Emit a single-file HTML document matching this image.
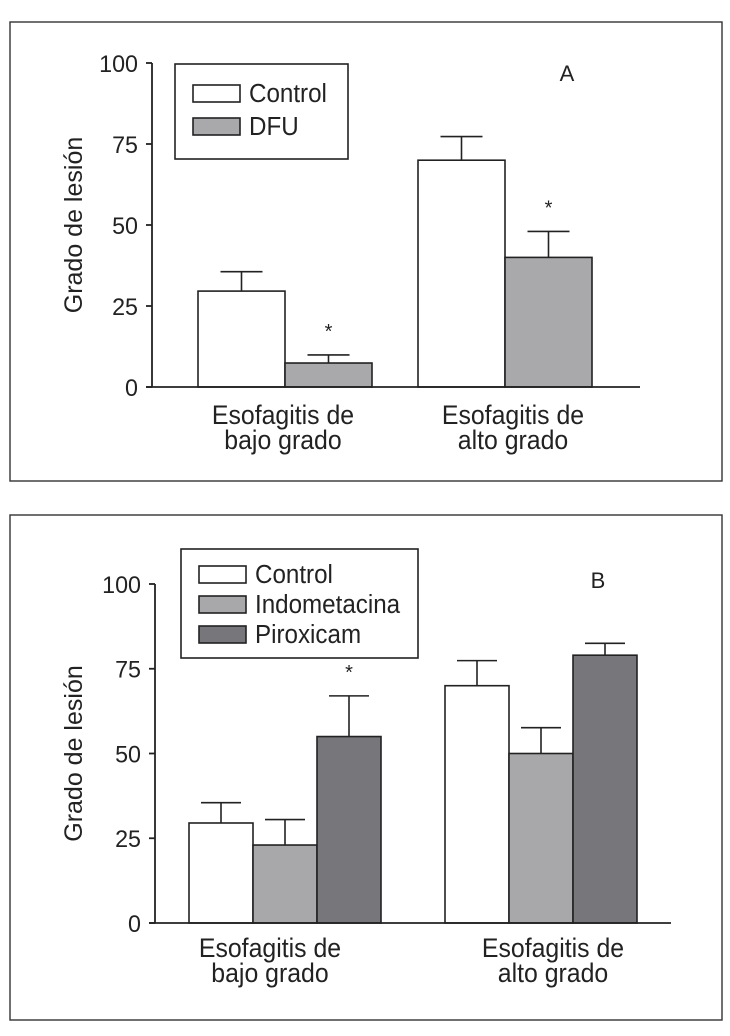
<!DOCTYPE html>
<html><head><meta charset="utf-8">
<style>
html,body{margin:0;padding:0;background:#fff;}
svg{display:block;font-family:"Liberation Sans",Arial,sans-serif;}
</style></head>
<body>
<svg id="fig" width="730" height="1036" viewBox="0 0 730 1036">
</svg>
<script>
// Panel A data
const catsA = ["Esofagitis de|bajo grado", "Esofagitis de|alto grado"];
const seriesA = ["Control", "DFU"];
const controlA = [29.6, 70];
const dfuA = [7.4, 40];
const controlAErr = [35.6, 77.3];
const dfuAErr = [9.9, 48];
const sigA = [true, true]; // asterisk on DFU
// Panel B data
const catsB = ["Esofagitis de|bajo grado", "Esofagitis de|alto grado"];
const seriesB = ["Control", "Indometacina", "Piroxicam"];
const controlB = [29.5, 70];
const indoB = [23, 50];
const piroB = [55, 79];
const controlBErr = [35.5, 77.4];
const indoBErr = [30.5, 57.6];
const piroBErr = [67, 82.5];
const sigB = [true, false];
const ticks = [0, 25, 50, 75, 100];

const NS = "http://www.w3.org/2000/svg";
const svg = document.getElementById("fig");
function mk(tag, attrs, parent) {
  const e = document.createElementNS(NS, tag);
  for (const k in attrs) e.setAttribute(k, attrs[k]);
  (parent || svg).appendChild(e);
  return e;
}
function txt(s, attrs, parent) { const t = mk("text", attrs, parent); t.textContent = s; return t; }
function sx(x, s) { return `translate(${x},0) scale(${s},1) translate(${-x},0)`; }

function panel(cfg) {
  const g = mk("g", {});
  
  
  const fr = mk("rect", {x: cfg.frame[0], y: cfg.frame[1], width: cfg.frame[2], height: cfg.frame[3], fill: "none", stroke: "#333", "stroke-width": 1.4}, g);
  
  
  const y = v => cfg.y0 - (cfg.y0 - cfg.y100) * v / 100;
  const ya = mk("line", {x1: cfg.ax, y1: cfg.y100, x2: cfg.ax, y2: cfg.y0, stroke: "#222", "stroke-width": 1.8}, g);
  
  
  ticks.forEach(t => {
    const tk = mk("line", {x1: cfg.ax - 6, y1: y(t), x2: cfg.ax, y2: y(t), stroke: "#222", "stroke-width": 1.8}, g);
    
    
    const tl = txt(String(t), {x: cfg.ax - 14, y: y(t) + 9, "text-anchor": "end", "font-size": 24, fill: "#222", transform: sx(cfg.ax - 14, 0.97)}, g);
    
    
  });
  const yt = txt("Grado de lesión", {x: 0, y: 0, "text-anchor": "middle", "font-size": 25, fill: "#222", transform: `translate(${cfg.ylx},${(cfg.y0+cfg.y100)/2}) rotate(-90)`}, g);
  
  
  cfg.series.forEach((s, si) => {
    cfg.cats.forEach((c, ci) => {
      const x0 = cfg.groupX[ci] + si * cfg.bw;
      const v = s.vals[ci], e = s.err[ci];
      const cx = x0 + cfg.bw / 2;
      const el = mk("line", {x1: cx, y1: y(v), x2: cx, y2: y(e), stroke: "#222", "stroke-width": 1.6}, g);
      
      
      const cap = mk("line", {x1: cx - cfg.cap, y1: y(e), x2: cx + cfg.cap, y2: y(e), stroke: "#222", "stroke-width": 1.6}, g);
      
      
      const b = mk("rect", {x: x0, y: y(v), width: cfg.bw, height: y(0) - y(v), fill: s.color, stroke: "#222", "stroke-width": 1.6}, g);
      
      
      if (s.sig && s.sig[ci]) {
        const a = txt("*", {x: cx, y: y(e) - 17, "text-anchor": "middle", "font-size": 20, fill: "#222"}, g);
        
        
      }
    });
  });
  const xa = mk("line", {x1: cfg.ax - 6, y1: cfg.y0, x2: cfg.xend, y2: cfg.y0, stroke: "#222", "stroke-width": 1.8}, g);
  
  
  cfg.cats.forEach((c, ci) => {
    const lines = c.split("|");
    const cx = cfg.groupX[ci] + cfg.bw * cfg.series.length / 2 + cfg.labOff[ci];
    lines.forEach((l, li) => {
      const t = txt(l, {x: cx, y: cfg.labY + li * 25, "text-anchor": "middle", "font-size": 27, fill: "#222", transform: sx(cx, 0.92)}, g);
      
      
    });
  });
  const L = cfg.legend;
  const lb = mk("rect", {x: L.x, y: L.y, width: L.w, height: L.h, fill: "#fff", stroke: "#222", "stroke-width": 1.6}, g);
  
  
  cfg.series.forEach((s, si) => {
    const ry = L.rowY[si];
    const sw = mk("rect", {x: L.x + 18, y: ry, width: 47, height: 17, fill: s.color, stroke: "#222", "stroke-width": 1.6}, g);
    
    
    const tx = L.x + 74;
    const t = txt(s.name, {x: tx, y: ry + 17, "font-size": 26, fill: "#222", transform: sx(tx, 0.93)}, g);
    
    
  });
  const pl = txt(cfg.letter, {x: cfg.letterPos[0], y: cfg.letterPos[1], "text-anchor": "middle", "font-size": 22, fill: "#222"}, g);
  
  
}

panel({
  name: "panel-a", frame: [10, 22, 712, 459], ax: 152, y0: 387, y100: 63, ylx: 82, xend: 640,
  cats: catsA, bw: 87, groupX: [198, 418], cap: 21, labOff: [-2, 8], labY: 424,
  series: [
    {name: seriesA[0], vals: controlA, err: controlAErr, color: "#ffffff"},
    {name: seriesA[1], vals: dfuA, err: dfuAErr, color: "#a9a9ac", sig: sigA}
  ],
  legend: {x: 175, y: 64, w: 173, h: 95, rowY: [85, 118]},
  letter: "A", letterPos: [567, 81]
});
panel({
  name: "panel-b", frame: [10, 515, 712, 505], ax: 155, y0: 923, y100: 584, ylx: 82, xend: 671,
  cats: catsB, bw: 64, groupX: [189, 445], cap: 20, labOff: [-15, 12], labY: 957,
  series: [
    {name: seriesB[0], vals: controlB, err: controlBErr, color: "#ffffff"},
    {name: seriesB[1], vals: indoB, err: indoBErr, color: "#a8a8ab"},
    {name: seriesB[2], vals: piroB, err: piroBErr, color: "#77777b", sig: sigB}
  ],
  legend: {x: 181, y: 549, w: 237, h: 109, rowY: [566, 596, 626]},
  letter: "B", letterPos: [598, 588]
});
</script>
</body></html>
